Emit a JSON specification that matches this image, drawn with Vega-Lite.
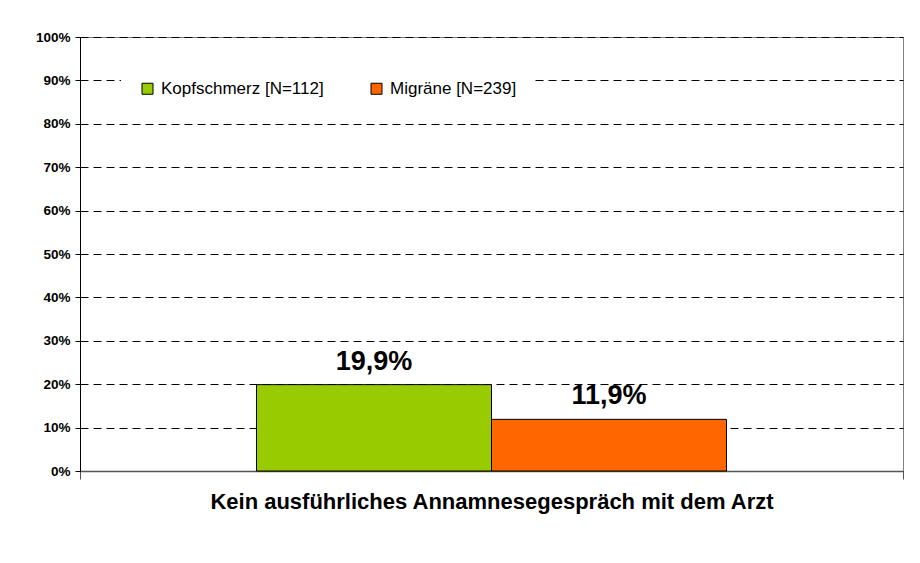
{
  "$schema": "https://vega.github.io/schema/vega-lite/v6.json",
  "width": 823,
  "height": 434,
  "autosize": {"type": "none"},
  "padding": {"left": 80, "top": 37, "right": 17, "bottom": 92},
  "background": "white",
  "config": {
    "locale": {"number": {"decimal": ",", "thousands": ".", "grouping": [3], "currency": ["", " €"]}},
    "font": "Liberation Sans",
    "view": {"stroke": "#808080", "strokeWidth": 1}
  },
  "data": {
    "values": [
      {"category": "Kein ausführliches Annamnesegespräch mit dem Arzt", "group": "Kopfschmerz [N=112]", "value": 0.199},
      {"category": "Kein ausführliches Annamnesegespräch mit dem Arzt", "group": "Migräne [N=239]", "value": 0.119}
    ]
  },
  "encoding": {
    "x": {
      "field": "category",
      "type": "nominal",
      "scale": {"paddingInner": 0, "paddingOuter": 0},
      "axis": {
        "title": null,
        "labelAngle": 0,
        "labelFont": "Liberation Sans",
        "labelFontSize": 22,
        "labelFontWeight": "bold",
        "labelColor": "black",
        "labelPadding": 12,
        "labelBaseline": "top",
        "labelLimit": 900,
        "tickBand": "extent",
        "tickSize": 8,
        "tickColor": "#555555",
        "domainColor": "#555555",
        "domainWidth": 1.5
      }
    },
    "xOffset": {
      "field": "group",
      "type": "nominal",
      "sort": ["Kopfschmerz [N=112]", "Migräne [N=239]"],
      "scale": {"paddingInner": 0, "paddingOuter": 0.751}
    },
    "y": {
      "field": "value",
      "type": "quantitative",
      "scale": {"domain": [0, 1], "nice": false},
      "axis": {
        "title": null,
        "format": ".0%",
        "values": [0, 0.1, 0.2, 0.3, 0.4, 0.5, 0.6, 0.7, 0.8, 0.9, 1],
        "labelFont": "Liberation Sans",
        "labelFontSize": 13.5,
        "labelFontWeight": "bold",
        "labelColor": "black",
        "labelPadding": 5,
        "tickSize": 5,
        "tickColor": "black",
        "domainColor": "black",
        "grid": true,
        "gridColor": "black",
        "gridOpacity": 1,
        "gridDash": [8, 5],
        "gridWidth": 1
      }
    }
  },
  "layer": [
    {
      "mark": {"type": "bar", "stroke": "black", "strokeWidth": 1},
      "encoding": {
        "color": {
          "field": "group",
          "type": "nominal",
          "sort": ["Kopfschmerz [N=112]", "Migräne [N=239]"],
          "scale": {"domain": ["Kopfschmerz [N=112]", "Migräne [N=239]"], "range": ["#99CC00", "#FF6600"]},
          "legend": {
            "title": null,
            "orient": "none",
            "legendX": 41,
            "legendY": 25,
            "direction": "horizontal",
            "fillColor": "white",
            "padding": 18,
            "symbolType": "square",
            "symbolSize": 121,
            "symbolStrokeColor": "black",
            "symbolStrokeWidth": 1,
            "symbolOpacity": 1,
            "labelFont": "Liberation Sans",
            "labelFontSize": 17,
            "labelColor": "black",
            "labelOffset": 5,
            "columnPadding": 44,
            "labelLimit": 400
          }
        }
      }
    },
    {
      "mark": {"type": "text", "baseline": "alphabetic", "dy": -15, "font": "Liberation Sans", "fontSize": 27, "fontWeight": "bold", "color": "black"},
      "encoding": {
        "text": {"field": "value", "type": "quantitative", "format": ".1%"}
      }
    }
  ]
}
